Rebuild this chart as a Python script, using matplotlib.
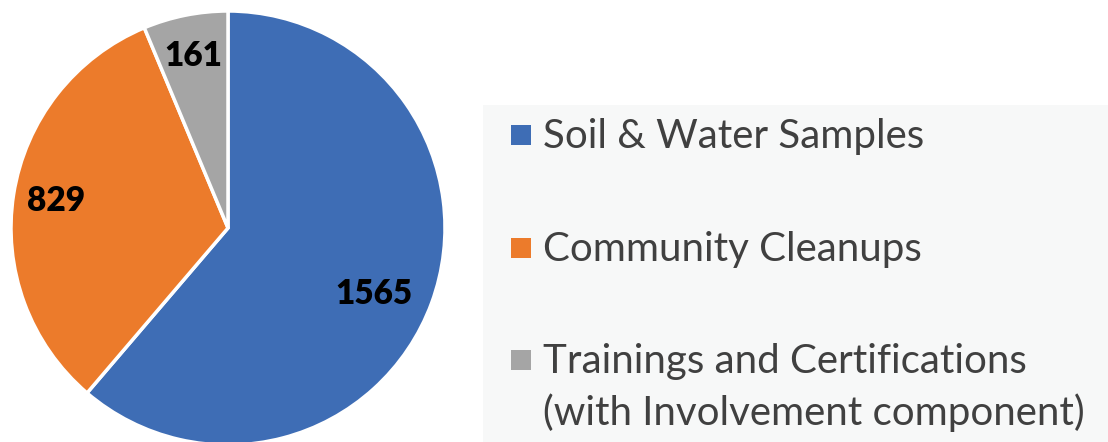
import numpy as np
import matplotlib.pyplot as plt
from matplotlib.patches import Rectangle

# Data
Labels = ["Soil & Water Samples", "Community Cleanups",
          "Trainings and Certifications\n(with Involvement component)"]
Values = [1565, 829, 161]
Colors = ["#3e6db5", "#ec7b2b", "#a5a5a5"]

W, H = 1108, 442
fig = plt.figure(figsize=(W/100, H/100), dpi=100)
fig.patch.set_facecolor("white")

# pie axes: centre (228, 228) px from top, radius 217 px
cx, cy, r = 228, 228, 217
ax = fig.add_axes([(cx - r)/W, (H - cy - r)/H, 2*r/W, 2*r/H])
wedges, texts, autotexts = ax.pie(
    Values, colors=Colors, startangle=90, counterclock=False,
    autopct=lambda p: "%d" % round(p*sum(Values)/100), pctdistance=0.79,
    wedgeprops=dict(edgecolor="white", linewidth=2.5),
    textprops=dict(fontsize=24, fontweight="heavy", color="black", family="Lato"))
ax.set_xlim(-1, 1)
ax.set_ylim(-1, 1)

# nudge the value labels like Excel's "best fit"
LabelDist = [0.74, 0.80, 0.81]
LabelShift = [-4, 0, 0]  # degrees
for w, t, d, s in zip(wedges, autotexts, LabelDist, LabelShift):
    ang = np.deg2rad((w.theta1 + w.theta2)/2 + s)
    t.set_position((d*np.cos(ang), d*np.sin(ang)))

# legend box
fig.patches.append(Rectangle((483/W, 0), 1 - 483/W, (H - 105)/H,
                             transform=fig.transFigure, facecolor="#f7f8f8",
                             edgecolor="none", zorder=0))
MarkerY = [135, 248, 360]
BaseY = [148, 261, 373]
for lab, col, my, by in zip(Labels, Colors, MarkerY, BaseY):
    fig.patches.append(Rectangle((511/W, (H - my - 10)/H), 20/W, 20/H,
                                 transform=fig.transFigure, facecolor=col,
                                 edgecolor="none", zorder=1))
    for k, line in enumerate(lab.split("\n")):
        fig.text(543/W, (H - by - 52*k)/H, line, fontsize=29, color="#404040",
                 family="Lato", ha="left", va="baseline")

fig.savefig("out.png", dpi=100)
